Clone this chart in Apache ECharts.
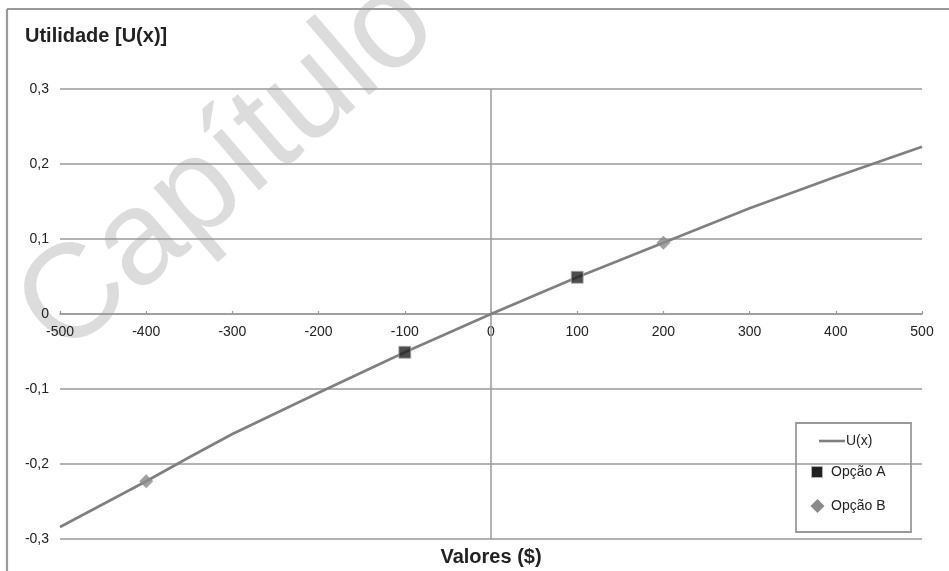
<!DOCTYPE html>
<html>
<head>
<meta charset="utf-8">
<script src="https://cdn.jsdelivr.net/npm/echarts@6/dist/echarts.min.js"></script>
<style>
  html, body { margin: 0; padding: 0; background: #fff; }
  #chart { width: 949px; height: 571px; }
</style>
</head>
<body>
<div id="chart"></div>
<script>
// Utility curve U(x) sampled along the value axis
const xValues = [-500, -400, -350, -300, -200, -100, 0, 100, 150, 200, 300, 400, 500];
const uValues = [-0.284, -0.223, -0.191, -0.160, -0.105, -0.051, 0, 0.049, 0.072, 0.095, 0.141, 0.183, 0.223];

// Outcomes of the two options
const optionAx = [-100, 100];
const optionAy = [-0.051, 0.049];
const optionBx = [-400, 200];
const optionBy = [-0.223, 0.095];

const seriesNames = ['U(x)', 'Opção A', 'Opção B'];
const yTitle = 'Utilidade [U(x)]';
const xTitle = 'Valores ($)';
const watermark = 'Capítulo';

const FONT = '"Liberation Sans", Arial, sans-serif';
const GRID_COLOR = '#9a9a9a';

const GRID_TOP = 89;
const GRID_BOTTOM = 32;
const CHART_H = 571;

const zip = (a, b) => a.map((v, i) => [v, b[i]]);

const chart = echarts.init(document.getElementById('chart'), null, { renderer: 'canvas' });

const fmtY = v => {
  if (Math.abs(v) < 1e-9) return '0';
  return v.toFixed(1).replace('.', ',');
};

// the value axis crosses at U = 0, i.e. in the middle of the symmetric range
const plotH = CHART_H - GRID_TOP - GRID_BOTTOM;
const zeroShift = -plotH / 2;

const option = {
  animation: false,
  backgroundColor: '#ffffff',
  grid: { left: 60, right: 27, top: GRID_TOP, bottom: GRID_BOTTOM },
  xAxis: {
    type: 'value',
    min: -500, max: 500, interval: 100,
    position: 'bottom',
    offset: zeroShift,
    axisLine: { show: true, onZero: false, lineStyle: { color: GRID_COLOR, width: 1.6 } },
    axisTick: { show: true, inside: true, length: 3, lineStyle: { color: GRID_COLOR, width: 1.2 } },
    axisLabel: { color: '#222', fontSize: 14, fontFamily: FONT, margin: 11 },
    splitLine: { show: false }
  },
  yAxis: {
    type: 'value',
    min: -0.3, max: 0.3, interval: 0.1,
    axisLine: { show: false },
    axisTick: { show: false },
    axisLabel: { color: '#222', fontSize: 14, fontFamily: FONT, margin: 11, formatter: fmtY },
    splitLine: { show: true, lineStyle: { color: GRID_COLOR, width: 1.6 } }
  },
  series: [
    {
      name: seriesNames[0],
      type: 'line',
      data: zip(xValues, uValues),
      showSymbol: false,
      symbol: 'none',
      lineStyle: { color: '#808080', width: 2.6 },
      z: 3,
      markLine: {
        silent: true,
        symbol: 'none',
        label: { show: false },
        lineStyle: { color: GRID_COLOR, width: 1.5, type: 'solid' },
        data: [{ xAxis: 0 }],
        z: 1
      }
    },
    {
      name: seriesNames[1],
      type: 'scatter',
      data: zip(optionAx, optionAy),
      symbol: 'rect',
      symbolSize: 12,
      itemStyle: { color: '#231f20', borderColor: '#b0b0b0', borderWidth: 1 },
      z: 4
    },
    {
      name: seriesNames[2],
      type: 'scatter',
      data: zip(optionBx, optionBy),
      symbol: 'diamond',
      symbolSize: 14,
      itemStyle: { color: '#8a8a8a' },
      z: 4
    }
  ],
  graphic: [
    // faint rotated stamp behind the plot
    {
      type: 'text', x: 228, y: 168, rotation: 0.71, z: -10, silent: true,
      style: { text: watermark, fill: '#dcdcdc', font: '134px ' + FONT, align: 'center', verticalAlign: 'middle' }
    },
    // frame: top and left edges
    { type: 'line', z: 0, shape: { x1: 7, y1: 9, x2: 949, y2: 9 }, style: { stroke: '#9a9a9a', lineWidth: 2.2 } },
    { type: 'line', z: 0, shape: { x1: 7, y1: 9, x2: 7, y2: 571 }, style: { stroke: '#9a9a9a', lineWidth: 2.2 } },
    // axis titles
    {
      type: 'text', x: 25, y: 36, z: 10,
      style: { text: yTitle, fill: '#222', font: 'bold 20px ' + FONT, align: 'left', verticalAlign: 'middle' }
    },
    {
      type: 'text', x: 491, y: 557, z: 10,
      style: { text: xTitle, fill: '#222', font: 'bold 20px ' + FONT, align: 'center', verticalAlign: 'middle' }
    },
    // legend box
    {
      type: 'group', z: 20,
      children: [
        { type: 'rect', shape: { x: 796, y: 423, width: 115, height: 109 }, style: { fill: '#fff', stroke: '#9a9a9a', lineWidth: 1.8 } },
        { type: 'line', shape: { x1: 819, y1: 441, x2: 845, y2: 441 }, style: { stroke: '#808080', lineWidth: 2.6 } },
        { type: 'text', x: 846, y: 441, style: { text: seriesNames[0], fill: '#222', font: '14px ' + FONT, verticalAlign: 'middle' } },
        { type: 'rect', shape: { x: 811.5, y: 466.5, width: 11, height: 11 }, style: { fill: '#231f20', stroke: '#b0b0b0', lineWidth: 1 } },
        { type: 'text', x: 831, y: 472, style: { text: seriesNames[1], fill: '#222', font: '14px ' + FONT, verticalAlign: 'middle' } },
        { type: 'polygon', shape: { points: [[817.5, 499], [824.5, 506], [817.5, 513], [810.5, 506]] }, style: { fill: '#8a8a8a' } },
        { type: 'text', x: 831, y: 506, style: { text: seriesNames[2], fill: '#222', font: '14px ' + FONT, verticalAlign: 'middle' } }
      ]
    }
  ]
};

chart.setOption(option);
</script>
</body>
</html>
